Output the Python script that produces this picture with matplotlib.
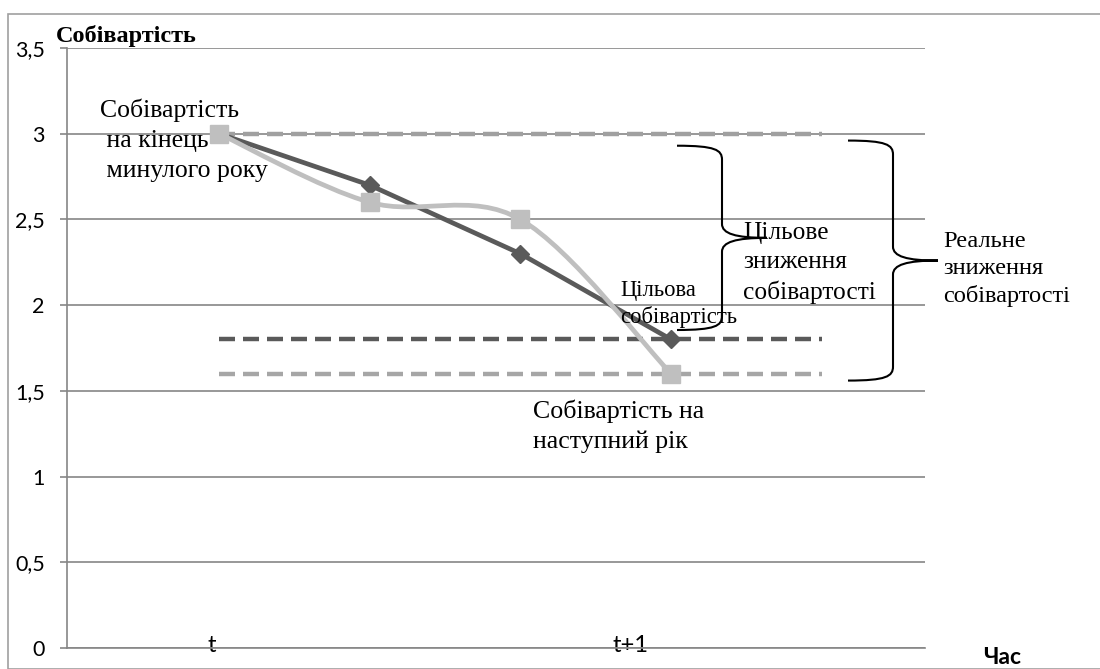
import matplotlib
matplotlib.use("Agg")
import matplotlib.pyplot as plt
from matplotlib.path import Path
from matplotlib.patches import PathPatch, Rectangle
import numpy as np

# ---------------- data ----------------
x_pos = [0, 1, 2, 3]
target_cost = [3.0, 2.7, 2.3, 1.8]      # dark line, diamonds
actual_cost = [3.0, 2.6, 2.5, 1.6]      # light smoothed line, squares
level_start = 3.0
level_target = 1.8
level_actual = 1.6
level_x = [0, 4]
x_tick_pos = [-0.05, 2.73]
x_tick_labels = ["t", "t+1"]
y_ticks = [0, 0.5, 1, 1.5, 2, 2.5, 3, 3.5]
y_tick_labels = ["0", "0,5", "1", "1,5", "2", "2,5", "3", "3,5"]

W, H = 1100, 669
fig = plt.figure(figsize=(W / 100, H / 100), dpi=100)
ax = fig.add_axes([67 / W, 1 - 648 / H, (925 - 67) / W, 600 / H])
ax.set_xlim(-1.009, 4.685)
ax.set_ylim(0, 3.5)

grid_c = "#868686"
for s in ["top", "right"]:
    ax.spines[s].set_visible(False)
ax.spines["left"].set_color(grid_c)
ax.spines["bottom"].set_color(grid_c)
ax.spines["left"].set_linewidth(1.2)
ax.spines["bottom"].set_linewidth(1.2)
ax.set_yticks(y_ticks, labels=y_tick_labels)
ax.yaxis.grid(True, color=grid_c, linewidth=1.2)
ax.set_axisbelow(True)
ax.tick_params(axis="y", length=5, color=grid_c, width=1.2, pad=11,
               labelsize=15.5)
ax.set_xticks(x_tick_pos, labels=x_tick_labels)
ax.tick_params(axis="x", length=0, pad=-9, labelsize=17)
for lab in ax.get_xticklabels() + ax.get_yticklabels():
    lab.set_fontfamily("Lato")

# horizontal reference levels (dashed)
dash = (3.6, 1.8)
ax.plot(level_x, [level_start] * 2, color="#a0a0a0", lw=3.2, dashes=dash,
        zorder=2)
ax.plot(level_x, [level_target] * 2, color="#5a5a5a", lw=3.2, dashes=dash,
        zorder=2)
ax.plot(level_x, [level_actual] * 2, color="#a6a6a6", lw=3.2, dashes=dash,
        zorder=2)

# dark straight series
ax.plot(x_pos, target_cost, color="#5a5a5a", lw=3.4, marker="D",
        markersize=9.5, zorder=4)

# light smoothed series (Catmull-Rom bezier through the points)
pts = np.column_stack([x_pos, actual_cost]).astype(float)
ext = np.vstack([pts[0], pts, pts[-1]])
verts = [tuple(pts[0])]
codes = [Path.MOVETO]
for i in range(len(pts) - 1):
    p0, p1, p2, p3 = ext[i], ext[i + 1], ext[i + 2], ext[i + 3]
    c1 = p1 + (p2 - p0) / 6
    c2 = p2 - (p3 - p1) / 6
    verts += [tuple(c1), tuple(c2), tuple(p2)]
    codes += [Path.CURVE4] * 3
ax.add_patch(PathPatch(Path(verts, codes), facecolor="none",
                       edgecolor="#bfbfbf", lw=3.4, zorder=5,
                       capstyle="round", joinstyle="round"))
ax.plot(x_pos, actual_cost, linestyle="none", marker="s", markersize=12.5,
        color="#bfbfbf", zorder=6)

# ---------------- braces ----------------
def brace(x_left_px, y_top, y_bot, w=45, tip=45, r=14):
    fig.canvas.draw()
    t = ax.transData
    yt = t.transform((0, y_top))[1]
    yb = t.transform((0, y_bot))[1]
    ym = (yt + yb) / 2
    x0 = x_left_px
    xs = x0 + w
    v = [(x0, yt),
         (x0 + w * 0.85, yt), (xs, yt - r * 0.3), (xs, yt - r),
         (xs, ym + r),
         (xs, ym + r * 0.3), (xs + tip * 0.3, ym), (xs + tip, ym),
         (xs + tip * 0.3, ym), (xs, ym - r * 0.3), (xs, ym - r),
         (xs, yb + r),
         (xs, yb + r * 0.3), (x0 + w * 0.85, yb), (x0, yb)]
    c = [Path.MOVETO,
         Path.CURVE4, Path.CURVE4, Path.CURVE4,
         Path.LINETO,
         Path.CURVE4, Path.CURVE4, Path.CURVE4,
         Path.CURVE4, Path.CURVE4, Path.CURVE4,
         Path.LINETO,
         Path.CURVE4, Path.CURVE4, Path.CURVE4]
    fig.add_artist(PathPatch(Path(v, c), transform=None, facecolor="none",
                             edgecolor="black", lw=1.5, zorder=10))

brace(677, 2.93, 1.855)
brace(848, 2.96, 1.56)

# ---------------- texts ----------------
serif = "Liberation Serif"
def ftext(px, py, s, size, **kw):
    fig.text(px / W, 1 - py / H, s, fontsize=size, family=kw.pop("family", serif),
             **kw)

ftext(56, 36, "Собівартість", 17.5, fontweight="bold", va="center")
ftext(100, 140, "Собівартість\n на кінець\n минулого року", 18.5,
      va="center", linespacing=1.48)
ftext(743, 263, "Цільове\nзниження\nсобівартості", 18.3, va="center",
      linespacing=1.4)
ftext(943, 269, "Реальне\nзниження\nсобівартості", 17.6, va="center",
      linespacing=1.37)
ftext(620, 304, "Цільова\nсобівартість", 16.3, va="center", linespacing=1.27)
ftext(533, 426, "Собівартість на\nнаступний рік", 18.6, va="center",
      linespacing=1.42)
ftext(983, 658, "Час", 16.5, fontweight="bold", va="center", family="Lato")

# outer frame
fig.add_artist(Rectangle((8 / W, 0), 1.0, 1 - 14 / H, transform=fig.transFigure,
                         facecolor="none", edgecolor="#a0a0a0", lw=1.2))

fig.savefig("out.png", dpi=100)
